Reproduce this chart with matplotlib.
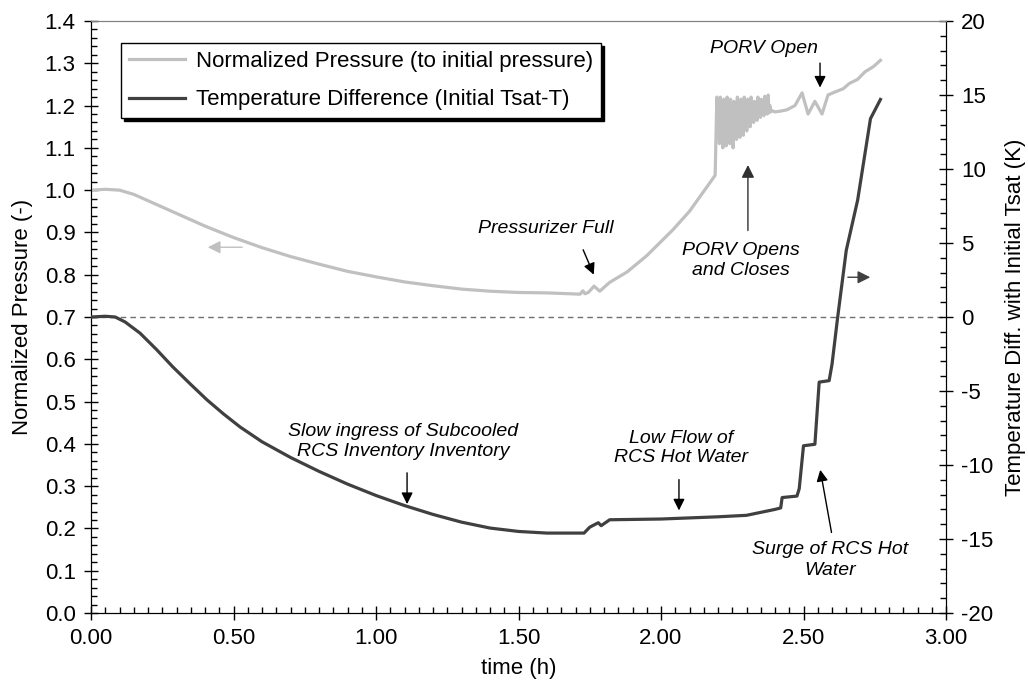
import matplotlib
matplotlib.use("Agg")
import matplotlib.pyplot as plt
from matplotlib.ticker import MultipleLocator, FormatStrFormatter
from matplotlib.legend_handler import HandlerLine2D

plt.rcParams['font.family'] = ['Liberation Sans', 'DejaVu Sans']
plt.rcParams['axes.unicode_minus'] = False

# ---------------- data ----------------
# Normalized pressure (left axis)
p_time = [0.00, 0.05, 0.10, 0.15, 0.20, 0.30, 0.40, 0.50, 0.60, 0.70, 0.80, 0.90,
          1.00, 1.10, 1.20, 1.30, 1.40, 1.50, 1.60, 1.716, 1.726, 1.733, 1.745,
          1.765, 1.785, 1.82, 1.88, 1.95, 2.04, 2.10, 2.19,
          2.196, 2.199, 2.202, 2.205, 2.208, 2.211, 2.214, 2.217, 2.220, 2.223,
          2.226, 2.229, 2.232, 2.235, 2.238, 2.241, 2.244, 2.247, 2.250, 2.253,
          2.256, 2.259, 2.262, 2.265, 2.268, 2.271, 2.274, 2.277, 2.280, 2.283,
          2.286, 2.289, 2.292, 2.295, 2.298, 2.301, 2.304, 2.307, 2.310, 2.313,
          2.316, 2.319, 2.322, 2.325, 2.328, 2.331, 2.334, 2.337, 2.340, 2.343,
          2.346, 2.349, 2.352, 2.355, 2.358, 2.361, 2.364, 2.367, 2.370, 2.373,
          2.376, 2.379, 2.382, 2.385, 2.390, 2.400, 2.420, 2.442,
          2.47, 2.495, 2.516, 2.54, 2.565, 2.586, 2.61, 2.64, 2.66, 2.69, 2.716,
          2.745, 2.77]
p_value = [1.000, 1.002, 1.000, 0.990, 0.975, 0.945, 0.915, 0.888, 0.864, 0.843, 0.825, 0.808,
           0.795, 0.783, 0.774, 0.766, 0.761, 0.758, 0.757, 0.754, 0.762, 0.755, 0.758,
           0.773, 0.761, 0.782, 0.806, 0.845, 0.905, 0.950, 1.035,
           1.220, 1.130, 1.205, 1.110, 1.220, 1.140, 1.195, 1.100, 1.215, 1.125,
           1.200, 1.105, 1.220, 1.135, 1.190, 1.110, 1.215, 1.130, 1.205, 1.100,
           1.210, 1.145, 1.195, 1.120, 1.220, 1.150, 1.200, 1.125, 1.215, 1.155,
           1.195, 1.130, 1.220, 1.160, 1.200, 1.140, 1.215, 1.165, 1.195, 1.150,
           1.220, 1.170, 1.200, 1.160, 1.210, 1.175, 1.195, 1.165, 1.220, 1.178,
           1.200, 1.172, 1.215, 1.180, 1.198, 1.176, 1.222, 1.182, 1.205, 1.180,
           1.225, 1.183, 1.200, 1.185, 1.188, 1.185, 1.187, 1.190,
           1.200, 1.230, 1.180, 1.210, 1.180, 1.225, 1.232, 1.240, 1.252, 1.262, 1.280,
           1.292, 1.307]

# Temperature difference (right axis, K)
t_time = [0.00, 0.05, 0.085, 0.12, 0.172, 0.23, 0.287, 0.347, 0.407, 0.465, 0.523,
          0.60, 0.70, 0.80, 0.90, 1.00, 1.10, 1.20, 1.30, 1.40, 1.50, 1.60, 1.73,
          1.75, 1.78, 1.79, 1.82, 2.00, 2.20, 2.30, 2.40, 2.42, 2.425, 2.477, 2.485,
          2.50, 2.54, 2.555, 2.59, 2.60, 2.62, 2.65, 2.69, 2.735, 2.77]
t_value = [0.0, 0.05, 0.0, -0.34, -1.09, -2.2, -3.37, -4.5, -5.6, -6.55, -7.43,
           -8.43, -9.49, -10.43, -11.29, -12.06, -12.74, -13.34, -13.86, -14.26, -14.49, -14.6, -14.6,
           -14.2, -13.9, -14.1, -13.7, -13.65, -13.5, -13.4, -13.0, -12.9, -12.2, -12.1, -11.6,
           -8.7, -8.6, -4.4, -4.3, -3.2, 0.0, 4.5, 7.9, 13.4, 14.7]

p_label = "Normalized Pressure (to initial pressure)"
t_label = "Temperature Difference (Initial Tsat-T)"

light = '#c0c0c0'
dark = '#404040'


class ShortLine(HandlerLine2D):
    def create_artists(self, legend, orig_handle, xdescent, ydescent, width, height,
                       fontsize, trans):
        arts = super().create_artists(legend, orig_handle, xdescent, ydescent, width,
                                      height, fontsize, trans)
        for a in arts:
            xd = a.get_xdata()
            if len(xd) == 2:
                x0, x1 = xd
                a.set_xdata([x0 + 0.54 * (x1 - x0), x1])
        return arts


fig = plt.figure(figsize=(10.28, 6.95), dpi=100)
ax = fig.add_axes([91/1028, 1-613/695, (946-91)/1028, (613-21)/695])
ax2 = ax.twinx()

lp, = ax.plot(p_time, p_value, color=light, lw=2.3, label=p_label, zorder=3)
lt, = ax2.plot(t_time, t_value, color=dark, lw=2.3, label=t_label, zorder=3)
ax2.axhline(0, color='#707070', lw=1, dashes=(4, 3), zorder=1)

ax.set_xlim(0, 3)
ax.set_ylim(0, 1.4)
ax2.set_ylim(-20, 20)

ax.xaxis.set_major_locator(MultipleLocator(0.5))
ax.xaxis.set_minor_locator(MultipleLocator(0.05))
ax.xaxis.set_major_formatter(FormatStrFormatter('%.2f'))
ax.yaxis.set_major_locator(MultipleLocator(0.1))
ax.yaxis.set_minor_locator(MultipleLocator(0.02))
ax.yaxis.set_major_formatter(FormatStrFormatter('%.1f'))
ax2.yaxis.set_major_locator(MultipleLocator(5))
ax2.yaxis.set_minor_locator(MultipleLocator(1))

fs = 16
ax.tick_params(axis='both', which='major', direction='inout', length=10, width=1, labelsize=fs, pad=6)
ax.tick_params(axis='both', which='minor', direction='in', length=4, width=1)
ax.tick_params(axis='x', which='both', top=False)
ax2.tick_params(axis='y', which='major', direction='inout', length=10, width=1, labelsize=fs, pad=6)
ax2.tick_params(axis='y', which='minor', direction='in', length=4, width=1)

ax.set_xlabel('time (h)', fontsize=fs, labelpad=6)
ax.set_ylabel('Normalized Pressure (-)', fontsize=fs, labelpad=8)
ax2.set_ylabel('Temperature Diff. with Initial Tsat (K)', fontsize=fs, labelpad=8)

for a in (ax, ax2):
    a.spines['top'].set_color('#808080')
ax2.spines['right'].set_color('black')

leg = ax2.legend([lp, lt], [p_label, t_label], loc='upper left',
                 bbox_to_anchor=(30/855, 1 - 22/592), fontsize=fs,
                 frameon=True, fancybox=False, shadow={'color': 'black', 'alpha': 1},
                 edgecolor='black', handlelength=2.55, handletextpad=0.5,
                 borderpad=0.34, labelspacing=0.8, borderaxespad=0,
                 handler_map={lp: ShortLine(), lt: ShortLine()})
leg.get_frame().set_linewidth(1)

afs = 14
arrow_k = dict(arrowstyle='-|>', color='black', lw=1, mutation_scale=17)

ax.text(1.596, 0.91, 'Pressurizer Full', style='italic', fontsize=afs, ha='center', va='center')
ax.annotate('', xy=(1.768, 0.794), xytext=(1.723, 0.865), arrowprops=arrow_k)

ax.text(2.36, 1.336, 'PORV Open', style='italic', fontsize=afs, ha='center', va='center')
ax.annotate('', xy=(2.558, 1.236), xytext=(2.558, 1.307), arrowprops=arrow_k)

ax.text(2.28, 0.834, 'PORV Opens\nand Closes', style='italic', fontsize=afs,
        ha='center', va='center', linespacing=1.2)
ax.annotate('', xy=(2.305, 1.066), xytext=(2.305, 0.898),
            arrowprops=dict(arrowstyle='-|>', color='#303030', lw=1, mutation_scale=19))

ax.text(1.095, 0.405, 'Slow ingress of Subcooled\nRCS Inventory Inventory', style='italic',
        fontsize=afs, ha='center', va='center', linespacing=1.2)
ax.annotate('', xy=(1.109, 0.251), xytext=(1.109, 0.338), arrowprops=arrow_k)

ax.text(2.07, 0.39, 'Low Flow of\nRCS Hot Water', style='italic', fontsize=afs,
        ha='center', va='center', linespacing=1.2)
ax.annotate('', xy=(2.063, 0.236), xytext=(2.063, 0.322), arrowprops=arrow_k)

ax.text(2.593, 0.126, 'Surge of RCS Hot\nWater', style='italic', fontsize=afs,
        ha='center', va='center', linespacing=1.3)
ax.annotate('', xy=(2.557, 0.345), xytext=(2.60, 0.184), arrowprops=arrow_k)

ax.annotate('', xy=(0.40, 0.865), xytext=(0.54, 0.865),
            arrowprops=dict(arrowstyle='-|>', color=light, lw=1, mutation_scale=19))
ax.annotate('', xy=(2.744, 0.794), xytext=(2.646, 0.794),
            arrowprops=dict(arrowstyle='-|>', color=dark, lw=1, mutation_scale=19))

fig.savefig('out.png', dpi=100)
